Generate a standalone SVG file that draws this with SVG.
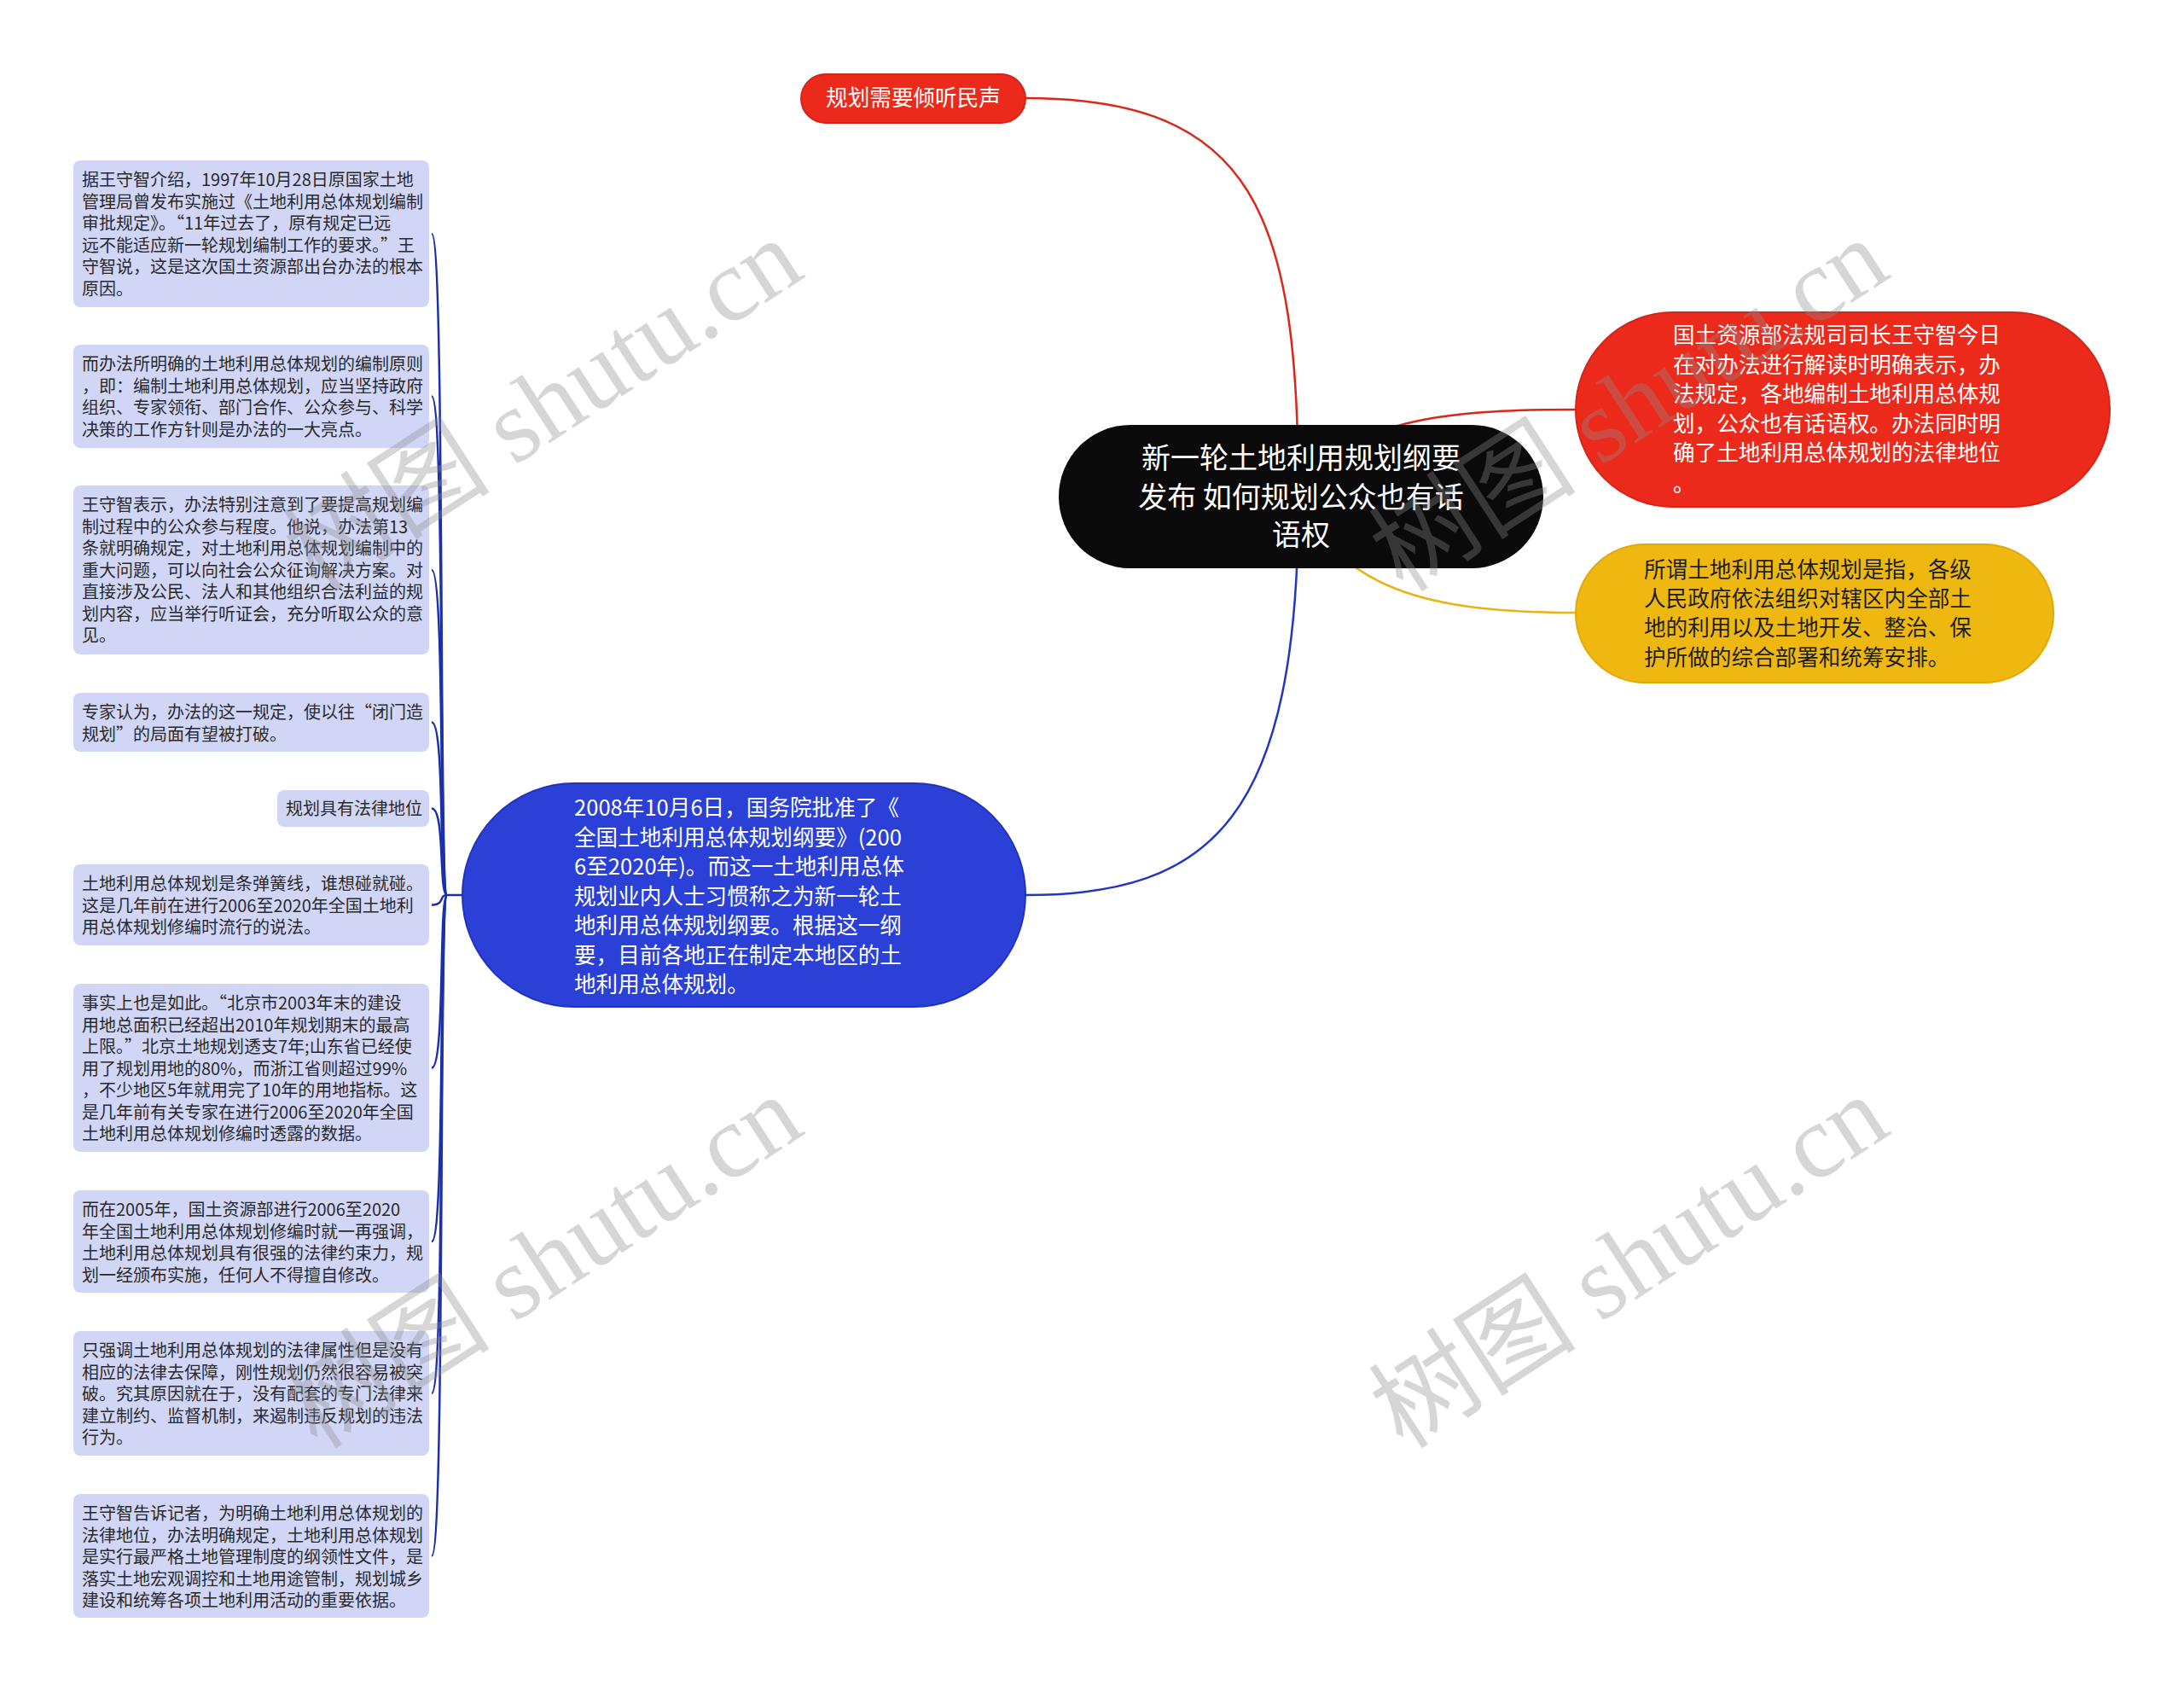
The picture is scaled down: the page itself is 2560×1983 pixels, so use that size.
<svg xmlns="http://www.w3.org/2000/svg" width="2560" height="1983" viewBox="0 0 2560 1983">
<style>
.t{font-family:"Noto Sans CJK SC","Liberation Sans",sans-serif}
.leaf rect{fill:#d2d6f6}
.leaf text{font-size:20px;fill:#2a2a2a}
.big{font-size:25.6px}
.wm{font-family:"Liberation Serif","Noto Sans CJK SC",serif;font-size:122px;fill:#8c8c8c;opacity:0.35}
.lc{fill:none;stroke:#1c30aa;stroke-width:2.5}
</style>
<rect width="2560" height="1983" fill="#ffffff"/>
<g id="connectors">
<path d="M1202 115 C1470 115 1522 250 1522 582" fill="none" stroke="#d9281a" stroke-width="2.5"/>
<path d="M1525 582 C1570 490 1700 480 1847 480" fill="none" stroke="#d9281a" stroke-width="2.5"/>
<path d="M1525 582 C1570 700 1700 718 1847 718" fill="none" stroke="#e6b417" stroke-width="2.5"/>
<path d="M1522 582 C1522 960 1420 1049 1202 1049" fill="none" stroke="#2137c2" stroke-width="2.5"/>
<path class="lc" d="M542 1049 L524 1049"/>
<path class="lc" d="M506 274 C522 274 514 1049 524 1049"/>
<path class="lc" d="M506 464.5 C522 464.5 514 1049 524 1049"/>
<path class="lc" d="M506 668 C522 668 514 1049 524 1049"/>
<path class="lc" d="M506 846.5 C522 846.5 514 1049 524 1049"/>
<path class="lc" d="M506 947.5 C522 947.5 514 1049 524 1049"/>
<path class="lc" d="M506 1060.5 C522 1060.5 514 1049 524 1049"/>
<path class="lc" d="M506 1251.5 C522 1251.5 514 1049 524 1049"/>
<path class="lc" d="M506 1455 C522 1455 514 1049 524 1049"/>
<path class="lc" d="M506 1633 C522 1633 514 1049 524 1049"/>
<path class="lc" d="M506 1823.5 C522 1823.5 514 1049 524 1049"/>
</g>
<g id="root">
<rect x="1241" y="498" width="568" height="168" rx="84" fill="#0a0a0a"/>
<text class="t" x="1525" text-anchor="middle" font-size="34" fill="#ffffff"><tspan x="1525" y="549">新一轮土地利用规划纲要</tspan><tspan x="1525" y="595">发布 如何规划公众也有话</tspan><tspan x="1525" y="639">语权</tspan></text>
</g>
<g id="n-top">
<rect x="939" y="87" width="263" height="57" rx="28.5" fill="#ec2a1c" stroke="#d3261a" stroke-width="2"/>
<text class="t big" x="1070.5" y="124" text-anchor="middle" fill="#ffffff">规划需要倾听民声</text>
</g>
<g id="n-red">
<rect x="1847" y="366" width="626" height="228" rx="114" fill="#ec2a1c" stroke="#d3261a" stroke-width="2"/>
<text class="t big" fill="#ffffff"><tspan x="1961" y="402">国土资源部法规司司长王守智今日</tspan><tspan x="1961" y="436.5">在对办法进行解读时明确表示，办</tspan><tspan x="1961" y="471">法规定，各地编制土地利用总体规</tspan><tspan x="1961" y="505.5">划，公众也有话语权。办法同时明</tspan><tspan x="1961" y="540">确了土地利用总体规划的法律地位</tspan><tspan x="1961" y="576">。</tspan></text>
</g>
<g id="n-yellow">
<rect x="1847" y="638" width="560" height="162" rx="81" fill="#efb810" stroke="#e2aa08" stroke-width="2"/>
<text class="t big" fill="#1e1e1e"><tspan x="1927" y="677">所谓土地利用总体规划是指，各级</tspan><tspan x="1927" y="711">人民政府依法组织对辖区内全部土</tspan><tspan x="1927" y="745">地的利用以及土地开发、整治、保</tspan><tspan x="1927" y="780">护所做的综合部署和统筹安排。</tspan></text>
</g>
<g id="n-blue">
<rect x="542" y="918" width="660" height="262" rx="131" fill="#2a40d6" stroke="#2234bc" stroke-width="2"/>
<text class="t big" fill="#ffffff"><tspan x="673" y="956">2008年10月6日，国务院批准了《</tspan><tspan x="673" y="990.5">全国土地利用总体规划纲要》(200</tspan><tspan x="673" y="1025">6至2020年)。而这一土地利用总体</tspan><tspan x="673" y="1059.5">规划业内人士习惯称之为新一轮土</tspan><tspan x="673" y="1094">地利用总体规划纲要。根据这一纲</tspan><tspan x="673" y="1128.5">要，目前各地正在制定本地区的土</tspan><tspan x="673" y="1163">地利用总体规划。</tspan></text>
</g>
<g id="leaf1" class="leaf">
<rect x="86" y="188" width="417" height="172" rx="8"/>
<text class="t"><tspan x="96" y="218">据王守智介绍，1997年10月28日原国家土地</tspan><tspan x="96" y="243.5">管理局曾发布实施过《土地利用总体规划编制</tspan><tspan x="96" y="269">审批规定》。“11年过去了，原有规定已远</tspan><tspan x="96" y="294.5">远不能适应新一轮规划编制工作的要求。”王</tspan><tspan x="96" y="320">守智说，这是这次国土资源部出台办法的根本</tspan><tspan x="96" y="345.5">原因。</tspan></text>
</g>
<g id="leaf2" class="leaf">
<rect x="86" y="404" width="417" height="121" rx="8"/>
<text class="t"><tspan x="96" y="434">而办法所明确的土地利用总体规划的编制原则</tspan><tspan x="96" y="459.5">，即：编制土地利用总体规划，应当坚持政府</tspan><tspan x="96" y="485">组织、专家领衔、部门合作、公众参与、科学</tspan><tspan x="96" y="510.5">决策的工作方针则是办法的一大亮点。</tspan></text>
</g>
<g id="leaf3" class="leaf">
<rect x="86" y="569" width="417" height="198" rx="8"/>
<text class="t"><tspan x="96" y="599">王守智表示，办法特别注意到了要提高规划编</tspan><tspan x="96" y="624.5">制过程中的公众参与程度。他说，办法第13</tspan><tspan x="96" y="650">条就明确规定，对土地利用总体规划编制中的</tspan><tspan x="96" y="675.5">重大问题，可以向社会公众征询解决方案。对</tspan><tspan x="96" y="701">直接涉及公民、法人和其他组织合法利益的规</tspan><tspan x="96" y="726.5">划内容，应当举行听证会，充分听取公众的意</tspan><tspan x="96" y="752">见。</tspan></text>
</g>
<g id="leaf4" class="leaf">
<rect x="86" y="812" width="417" height="69" rx="8"/>
<text class="t"><tspan x="96" y="842">专家认为，办法的这一规定，使以往“闭门造</tspan><tspan x="96" y="867.5">规划”的局面有望被打破。</tspan></text>
</g>
<g id="leaf5" class="leaf">
<rect x="325" y="926" width="178" height="43" rx="8"/>
<text class="t" x="335" y="955">规划具有法律地位</text>
</g>
<g id="leaf6" class="leaf">
<rect x="86" y="1013" width="417" height="95" rx="8"/>
<text class="t"><tspan x="96" y="1043">土地利用总体规划是条弹簧线，谁想碰就碰。</tspan><tspan x="96" y="1068.5">这是几年前在进行2006至2020年全国土地利</tspan><tspan x="96" y="1094">用总体规划修编时流行的说法。</tspan></text>
</g>
<g id="leaf7" class="leaf">
<rect x="86" y="1153" width="417" height="197" rx="8"/>
<text class="t"><tspan x="96" y="1183">事实上也是如此。“北京市2003年末的建设</tspan><tspan x="96" y="1208.5">用地总面积已经超出2010年规划期末的最高</tspan><tspan x="96" y="1234">上限。”北京土地规划透支7年;山东省已经使</tspan><tspan x="96" y="1259.5">用了规划用地的80%，而浙江省则超过99%</tspan><tspan x="96" y="1285">，不少地区5年就用完了10年的用地指标。这</tspan><tspan x="96" y="1310.5">是几年前有关专家在进行2006至2020年全国</tspan><tspan x="96" y="1336">土地利用总体规划修编时透露的数据。</tspan></text>
</g>
<g id="leaf8" class="leaf">
<rect x="86" y="1395" width="417" height="120" rx="8"/>
<text class="t"><tspan x="96" y="1425">而在2005年，国土资源部进行2006至2020</tspan><tspan x="96" y="1450.5">年全国土地利用总体规划修编时就一再强调，</tspan><tspan x="96" y="1476">土地利用总体规划具有很强的法律约束力，规</tspan><tspan x="96" y="1501.5">划一经颁布实施，任何人不得擅自修改。</tspan></text>
</g>
<g id="leaf9" class="leaf">
<rect x="86" y="1560" width="417" height="146" rx="8"/>
<text class="t"><tspan x="96" y="1590">只强调土地利用总体规划的法律属性但是没有</tspan><tspan x="96" y="1615.5">相应的法律去保障，刚性规划仍然很容易被突</tspan><tspan x="96" y="1641">破。究其原因就在于，没有配套的专门法律来</tspan><tspan x="96" y="1666.5">建立制约、监督机制，来遏制违反规划的违法</tspan><tspan x="96" y="1692">行为。</tspan></text>
</g>
<g id="leaf10" class="leaf">
<rect x="86" y="1751" width="417" height="145" rx="8"/>
<text class="t"><tspan x="96" y="1781">王守智告诉记者，为明确土地利用总体规划的</tspan><tspan x="96" y="1806.5">法律地位，办法明确规定，土地利用总体规划</tspan><tspan x="96" y="1832">是实行最严格土地管理制度的纲领性文件，是</tspan><tspan x="96" y="1857.5">落实土地宏观调控和土地用途管制，规划城乡</tspan><tspan x="96" y="1883">建设和统筹各项土地利用活动的重要依据。</tspan></text>
</g>
<g id="watermarks">
<text class="wm" transform="translate(372 696) rotate(-33)">树图 shutu.cn</text>
<text class="wm" transform="translate(1645 696) rotate(-33)">树图 shutu.cn</text>
<text class="wm" transform="translate(372 1700) rotate(-33)">树图 shutu.cn</text>
<text class="wm" transform="translate(1645 1700) rotate(-33)">树图 shutu.cn</text>
</g>
</svg>
